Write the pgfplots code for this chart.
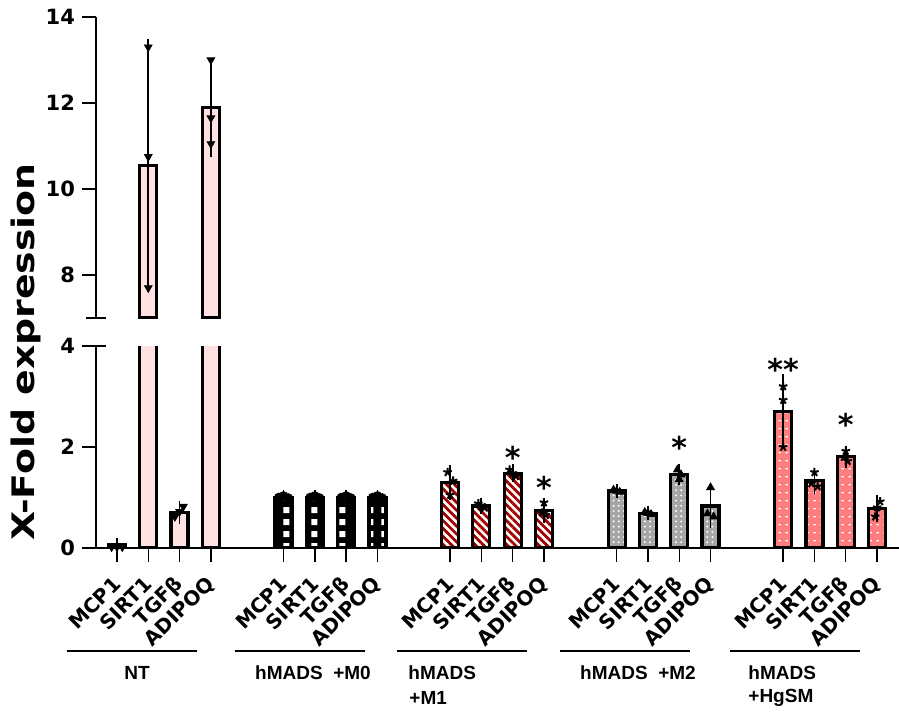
\documentclass[border=0pt]{standalone}
\usepackage{pgfplots}
\pgfplotsset{compat=1.18}
\usepackage{fontspec}
\setmainfont{DejaVu Sans}
\newfontfamily\widefont[FakeStretch=1.22]{DejaVu Sans}
\newfontfamily\grpfont{Liberation Sans}
\usetikzlibrary{patterns,patterns.meta}
\definecolor{ntpink}{RGB}{255,225,225}
\definecolor{mred}{RGB}{165,0,0}
\definecolor{mgray}{RGB}{166,166,166}
\definecolor{hsal}{RGB}{255,125,125}
\newcommand{\yl}[1]{\mbox{\fontsize{10.5}{12}\selectfont\bfseries #1}}
\pgfdeclarepatternformonly{wsq}{\pgfpointorigin}{\pgfpoint{7pt}{6pt}}{\pgfpoint{7pt}{6pt}}{\pgfpathrectangle{\pgfpoint{1.8pt}{1.5pt}}{\pgfpoint{3.2pt}{3.2pt}}\pgfusepath{fill}}
\pgfdeclarepatternformonly{wdash}{\pgfpointorigin}{\pgfpoint{3.5pt}{4pt}}{\pgfpoint{3.5pt}{4pt}}{\pgfpathrectangle{\pgfpoint{0.8pt}{1.5pt}}{\pgfpoint{1.4pt}{0.6pt}}\pgfusepath{fill}}
\pgfplotsset{
  brk/.style={scale only axis, width=401.5pt, xmin=-0.67, xmax=24.98,
    tick align=outside, major tick length=7pt,
    every tick/.style={black, line width=0.7pt},
    axis line style={line width=0.8pt}},
  bstyle/.style={ybar, bar width=8.5pt, bar shift=0pt, draw=black, line width=1.6pt,
    /pgfplots/error bars/y dir=both, /pgfplots/error bars/y explicit,
    /pgfplots/error bars/error bar style={line width=0.9pt, black, solid},
    /pgfplots/error bars/error mark options={line width=0.9pt, mark size=3pt, black, solid}},
  pstyle/.style={only marks, mark size=2.2pt, mark options={fill=black, draw=black, solid, line width=0.4pt}},
}
\begin{document}
\begin{tikzpicture}
\useasboundingbox (-48pt,-85.5pt) rectangle (401.5pt,274pt);
% ---------- lower segment ----------
\begin{axis}[brk, at={(0,0)}, anchor=south west, height=101pt,
  ymin=0, ymax=4, ytick={0,2,4}, yticklabels={\yl{0},\yl{2},\yl{4}},
  extra y ticks={4}, extra y tick labels={},
  extra y tick style={tick align=center, major tick length=9.5pt},
  axis x line*=bottom, axis y line*=left,
  xtick={0,1,2,3,5.32,6.32,7.32,8.32,10.64,11.64,12.64,13.64,15.96,16.96,17.96,18.96,21.28,22.28,23.28,24.28},
  xticklabels={MCP1,SIRT1,TGFβ,ADIPOQ,MCP1,SIRT1,TGFβ,ADIPOQ,MCP1,SIRT1,TGFβ,ADIPOQ,MCP1,SIRT1,TGFβ,ADIPOQ,MCP1,SIRT1,TGFβ,ADIPOQ},
  xticklabel style={font=\bfseries\fontsize{10}{11}\selectfont, yshift=-7pt, xshift=2.5pt, rotate=45, anchor=east},
]
% NT
\addplot[bstyle, fill=ntpink] table[x=x, y=y, y error=e] {
x y e
0 0.07 0.01
2 0.71 0.11
};
\addplot[ybar, bar width=8.5pt, bar shift=0pt, draw=black, line width=1.6pt, fill=ntpink] coordinates {(1,10.55) (3,11.89)};
\addplot[pstyle, mark=triangle*, mark options={rotate=180}] coordinates {(-0.17,0.02) (0,0.02) (0.17,0.02) (1.85,0.62) (2,0.72) (2.12,0.82)};
% M0
\addplot[bstyle, draw=black, preaction={fill=black}, pattern=wsq, pattern color=white] table[x=x, y=y, y error=e] {
x y e
5.32 1.0 0.02
6.32 1.0 0.02
7.32 1.0 0.02
8.32 1.0 0.02
};
\addplot[pstyle, mark=*] coordinates {(5.17,1.0) (5.32,1.03) (5.47,0.99) (6.17,1.0) (6.32,1.03) (6.47,0.99) (7.17,1.0) (7.32,1.03) (7.47,0.99) (8.17,1.0) (8.32,1.03) (8.47,0.99)};
% M1
\addplot[bstyle, preaction={fill=white}, pattern={Lines[angle=-45, distance=2.8pt, line width=1.4pt]}, pattern color=mred] table[x=x, y=y, y error=e] {
x y e
10.64 1.29 0.23
11.64 0.83 0.04
12.64 1.48 0.06
13.64 0.75 0.13
};
\addplot[pstyle, mark=star, mark options={line width=1pt}] coordinates {(10.56,1.5) (10.74,1.33) (10.64,1.05) (11.54,0.88) (11.64,0.82) (11.74,0.8) (12.54,1.55) (12.64,1.48) (12.74,1.42) (13.64,0.9) (13.58,0.7) (13.7,0.65)};
% M2
\addplot[bstyle, preaction={fill=mgray}, pattern={Dots[distance=2.6pt, radius=0.55pt]}, pattern color=white] table[x=x, y=y, y error=e] {
x y e
15.96 1.13 0.02
16.96 0.69 0.02
17.96 1.45 0.09
18.96 0.83 0.32
};
\addplot[pstyle, mark=triangle*] coordinates {(15.86,1.15) (15.96,1.13) (16.06,1.11) (16.86,0.71) (16.96,0.69) (17.06,0.67) (17.9,1.55) (18.02,1.45) (17.96,1.36) (18.96,1.2) (18.86,0.68) (19.06,0.62)};
% HgSM
\addplot[bstyle, preaction={fill=hsal}, pattern=wdash, pattern color=white] table[x=x, y=y, y error=e] {
x y e
21.28 2.71 0.62
22.28 1.33 0.14
23.28 1.81 0.10
24.28 0.78 0.15
};
\addplot[pstyle, mark=star, mark options={line width=1pt}] coordinates {(21.28,3.2) (21.28,2.93) (21.28,2.0) (22.28,1.5) (22.18,1.28) (22.38,1.22) (23.28,1.92) (23.22,1.8) (23.34,1.72) (24.38,0.92) (24.28,0.8) (24.22,0.62)};
% significance
\addplot[draw=none, mark=none, nodes near coords, point meta=explicit symbolic,
  every node near coord/.append style={anchor=center, font=\bfseries\fontsize{15}{15}\selectfont, inner sep=0pt}]
  coordinates {(12.64,1.8) [*] (13.64,1.21) [*] (17.96,2.0) [*] (21.28,3.54) [**] (23.28,2.45) [*]};
\end{axis}
% ---------- upper segment ----------
\begin{axis}[brk, at={(0,115pt)}, anchor=south west, height=150.5pt,
  ymin=7, ymax=14, ytick={8,10,12,14}, yticklabels={\yl{8},\yl{10},\yl{12},\yl{14}},
  extra y ticks={7}, extra y tick labels={},
  extra y tick style={tick align=center, major tick length=9.5pt},
  axis x line=none, axis y line*=left, xtick=\empty,
]
\addplot[bstyle, fill=ntpink] table[x=x, y=y, y error=e] {
x y e
1 10.55 2.8
3 11.89 1.0
};
\addplot[pstyle, mark=triangle*, mark options={rotate=180}] coordinates {(1,13.3) (1,10.75) (1,7.7) (3,13.0) (3,11.65) (3,11.05)};
\end{axis}
% y label
\node[rotate=90] at (-35pt,98pt) {\widefont\bfseries\fontsize{15.5}{18}\selectfont X-Fold expression};
% group lines and labels
\begin{scope}[line width=1pt]
\draw (-14.5pt,-51.5pt) -- (50.5pt,-51.5pt);
\draw (69.5pt,-51.5pt) -- (134.5pt,-51.5pt);
\draw (150.5pt,-51.5pt) -- (215.5pt,-51.5pt);
\draw (232pt,-51.5pt) -- (297pt,-51.5pt);
\draw (317pt,-51.5pt) -- (382pt,-51.5pt);
\end{scope}
\begin{scope}[every node/.style={font=\grpfont\bfseries\fontsize{9.5}{11}\selectfont, inner sep=0pt}]
\node at (20.5pt,-62.5pt) {NT};
\node at (108.5pt,-62.5pt) {hMADS\ \ +M0};
\node[anchor=west] at (156pt,-62.5pt) {hMADS};
\node[anchor=west] at (156.5pt,-75pt) {+M1};
\node at (271pt,-62.5pt) {hMADS\ \ +M2};
\node[anchor=west] at (326pt,-62.5pt) {hMADS};
\node[anchor=west] at (326pt,-75pt) {+HgSM};
\end{scope}
\end{tikzpicture}
\end{document}
